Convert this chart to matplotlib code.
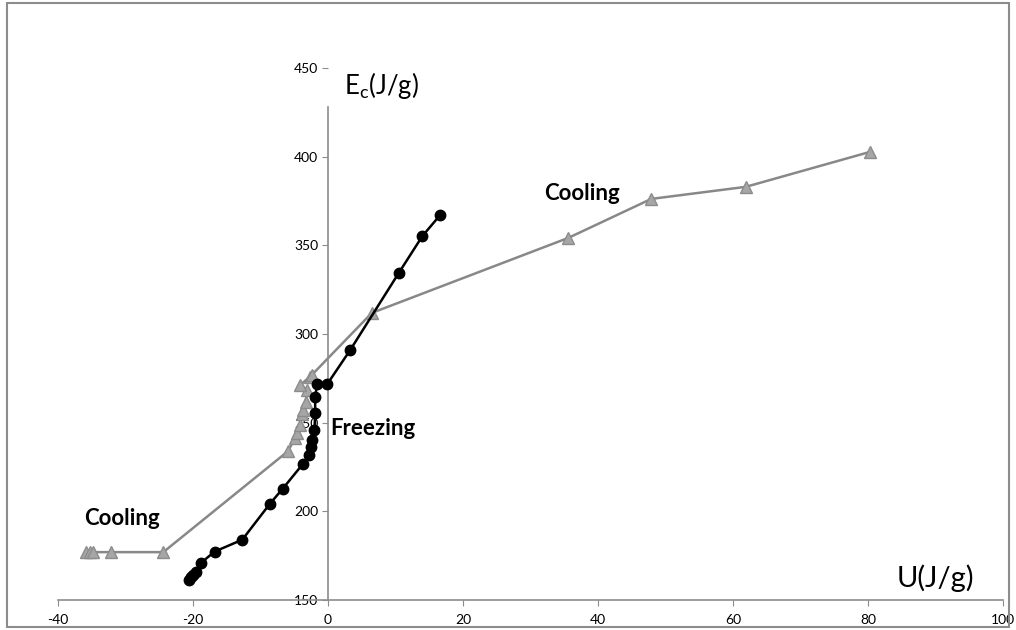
import numpy as np
import matplotlib.pyplot as plt

# Freezing curve (black circles)
freeze_u = [-20.6, -20.3, -20.0, -19.6, -18.8, -16.8, -12.7, -8.6, -6.7, -3.7,
            -2.8, -2.5, -2.3, -2.0, -1.9, -1.9, -1.6, -0.1, 3.3, 10.5, 14.0, 16.6]
freeze_e = [161.5, 162.8, 164.2, 166.0, 171.0, 177.3, 184.0, 204.3, 212.8, 226.8,
            232.0, 236.5, 240.0, 246.0, 255.3, 264.5, 272.0, 271.8, 291.0, 334.5, 355.3, 367.0]

# Cooling curve (grey triangles)
cool_u = [-35.9, -35.3, -34.8, -32.1, -24.4, -5.9, -4.9, -4.6, -4.1, -3.9, -3.7,
          -3.3, -3.1, -4.1, -2.7, -2.4, 6.5, 35.6, 47.9, 61.9, 80.3]
cool_e = [177.0, 177.0, 177.0, 177.0, 177.0, 234.0, 241.4, 244.2, 248.7, 254.9, 257.2,
          261.7, 268.4, 271.3, 275.8, 276.9, 311.9, 354.2, 376.2, 383.0, 402.7]

x_ticks = [-40, -20, 0, 20, 40, 60, 80, 100]
y_ticks = [150, 200, 250, 300, 350, 400, 450]

plt.rcParams['font.family'] = ['Lato', 'DejaVu Sans']
plt.rcParams['axes.unicode_minus'] = False

fig = plt.figure(figsize=(10.16, 6.3), dpi=100)
ax = fig.add_axes([0.0571, 0.0476, 0.930, 0.8444])

# chart area border
fig.patches.append(plt.Rectangle((0.007, 0.005), 0.986, 0.99, transform=fig.transFigure,
                                 fill=False, edgecolor='#8c8c8c', linewidth=1.5))

ax.plot(cool_u, cool_e, color='#888888', linewidth=1.8, marker='^', markersize=9,
        markerfacecolor='#a6a6a6', markeredgecolor='#8c8c8c', zorder=2)
ax.plot(freeze_u, freeze_e, color='black', linewidth=1.8, marker='o', markersize=7.5,
        markerfacecolor='black', zorder=3)

ax.set_xlim(-40, 100)
ax.set_ylim(150, 450)
ax.set_xticks(x_ticks)
ax.set_yticks(y_ticks)

ax.spines['top'].set_visible(False)
ax.spines['right'].set_visible(False)
ax.spines['left'].set_position(('data', 0))
ax.spines['left'].set_bounds(150, 428)
for s in ['left', 'bottom']:
    ax.spines[s].set_color('#8c8c8c')
    ax.spines[s].set_linewidth(1.2)
ax.tick_params(axis='both', direction='out', length=4, color='#8c8c8c',
               labelsize=10, labelcolor='black')
ax.tick_params(axis='x', pad=6)
ax.tick_params(axis='y', pad=3)

ax.text(37.6, 379.5, 'Cooling', fontsize=16, fontweight='bold', ha='center', va='center')
ax.text(-30.5, 196, 'Cooling', fontsize=16, fontweight='bold', ha='center', va='center')
ax.text(6.7, 247, 'Freezing', fontsize=16, fontweight='bold', ha='center', va='center')
ax.text(2.3, 440, r'E$_\mathregular{c}$(J/g)', fontsize=18.5, ha='left', va='center')
ax.text(90, 162.5, 'U(J/g)', fontsize=21, ha='center', va='center')

fig.savefig('out.png', dpi=100)
